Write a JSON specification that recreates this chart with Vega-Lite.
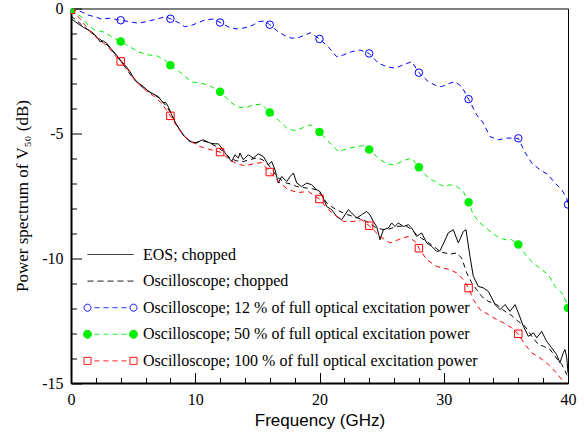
{
 "$schema": "https://vega.github.io/schema/vega-lite/v6.json",
 "width": 497, "height": 374.5,
 "autosize": {"type": "none"},
 "padding": {"left": 71, "top": 8.5, "right": 16, "bottom": 51},
 "background": "white",
 "config": {
  "view": {"stroke": "black", "strokeWidth": 1},
  "axis": {"grid": false, "domainColor": "black", "tickColor": "black", "labelColor": "black", "titleColor": "black", "labelFont": "Liberation Serif", "labelFontSize": 16, "labelFlush": false}
 },
 "resolve": {"axis": {"x": "independent", "y": "independent"}},
 "datasets": {
  "eos": [
   {"f":0,"p":-0.4},{"f":0.4,"p":-0.55},{"f":0.72,"p":-0.66},{"f":1.0,"p":-0.75},{"f":1.39,"p":-0.86},{"f":1.7,"p":-0.95},{"f":2.07,"p":-1.13},{"f":2.33,"p":-1.33},{"f":2.6,"p":-1.3},{"f":2.87,"p":-1.39},{"f":3.2,"p":-1.6},{"f":3.54,"p":-1.79},{"f":4.08,"p":-2.13},{"f":4.4,"p":-2.3},{"f":4.75,"p":-2.53},{"f":5.0,"p":-2.75},{"f":5.29,"p":-2.93},{"f":5.82,"p":-3.13},{"f":6.2,"p":-3.3},{"f":6.49,"p":-3.39},{"f":7.03,"p":-3.53},{"f":7.43,"p":-3.79},{"f":7.6,"p":-3.75},{"f":7.83,"p":-3.93},{"f":8.1,"p":-4.26},{"f":8.5,"p":-4.66},{"f":9.04,"p":-5.06},{"f":9.3,"p":-5.2},{"f":9.58,"p":-5.33},{"f":10.12,"p":-5.39},{"f":10.4,"p":-5.3},{"f":10.65,"p":-5.26},{"f":11.19,"p":-5.39},{"f":11.6,"p":-5.42},{"f":11.86,"p":-5.42},{"f":12.13,"p":-5.59},{"f":12.52,"p":-5.86},{"f":12.93,"p":-6.13},{"f":13.2,"p":-5.86},{"f":13.47,"p":-5.99},{"f":13.6,"p":-5.79},{"f":13.87,"p":-6.06},{"f":14.27,"p":-5.86},{"f":14.67,"p":-5.99},{"f":15.07,"p":-5.82},{"f":15.48,"p":-5.93},{"f":15.88,"p":-6.26},{"f":16.15,"p":-6.13},{"f":16.42,"p":-6.46},{"f":16.68,"p":-6.99},{"f":16.96,"p":-6.73},{"f":17.36,"p":-6.93},{"f":17.63,"p":-6.73},{"f":17.9,"p":-6.59},{"f":18.17,"p":-6.99},{"f":18.57,"p":-7.13},{"f":18.97,"p":-6.99},{"f":19.37,"p":-7.06},{"f":19.77,"p":-7.26},{"f":20.04,"p":-7.33},{"f":20.3,"p":-7.59},{"f":20.58,"p":-7.93},{"f":20.98,"p":-8.06},{"f":21.38,"p":-8.33},{"f":21.79,"p":-8.46},{"f":22.05,"p":-8.26},{"f":22.32,"p":-8.06},{"f":22.59,"p":-8.19},{"f":22.99,"p":-8.39},{"f":23.39,"p":-8.26},{"f":23.79,"p":-8.13},{"f":24.06,"p":-8.26},{"f":24.33,"p":-8.53},{"f":24.6,"p":-8.73},{"f":24.87,"p":-9.26},{"f":25.14,"p":-8.86},{"f":25.54,"p":-8.79},{"f":25.81,"p":-8.59},{"f":26.08,"p":-8.73},{"f":26.34,"p":-8.59},{"f":26.75,"p":-8.73},{"f":27.15,"p":-8.66},{"f":27.42,"p":-8.79},{"f":27.82,"p":-9.13},{"f":28.22,"p":-8.99},{"f":28.63,"p":-9.39},{"f":29.03,"p":-9.53},{"f":29.43,"p":-9.73},{"f":29.7,"p":-9.7},{"f":30.0,"p":-9.39},{"f":30.36,"p":-8.99},{"f":30.77,"p":-8.86},{"f":31.17,"p":-9.39},{"f":31.58,"p":-8.93},{"f":31.79,"p":-8.86},{"f":32.11,"p":-9.93},{"f":32.38,"p":-10.73},{"f":32.78,"p":-11.13},{"f":33.19,"p":-11.19},{"f":33.59,"p":-11.33},{"f":34.13,"p":-11.86},{"f":34.53,"p":-12.06},{"f":34.93,"p":-11.86},{"f":35.33,"p":-12.13},{"f":35.74,"p":-11.86},{"f":36.0,"p":-12.19},{"f":36.41,"p":-12.73},{"f":36.81,"p":-13.13},{"f":37.22,"p":-12.99},{"f":37.48,"p":-13.19},{"f":37.88,"p":-12.93},{"f":38.28,"p":-13.33},{"f":38.68,"p":-13.59},{"f":39.08,"p":-13.86},{"f":39.35,"p":-14.19},{"f":39.62,"p":-13.79},{"f":39.76,"p":-13.66},{"f":39.9,"p":-13.99},{"f":40,"p":-14.6}
  ],
  "osc": [
   {"f":0,"p":-0.3},{"f":0.5,"p":-0.5},{"f":1.0,"p":-0.72},{"f":1.5,"p":-0.9},{"f":2.0,"p":-1.1},{"f":2.5,"p":-1.3},{"f":3.0,"p":-1.5},{"f":3.5,"p":-1.8},{"f":4.0,"p":-2.1},{"f":4.5,"p":-2.45},{"f":5.0,"p":-2.8},{"f":5.5,"p":-3.05},{"f":6.0,"p":-3.25},{"f":6.5,"p":-3.4},{"f":7.0,"p":-3.55},{"f":7.5,"p":-3.8},{"f":8.0,"p":-4.15},{"f":8.5,"p":-4.65},{"f":9.0,"p":-5.05},{"f":9.5,"p":-5.3},{"f":10.0,"p":-5.38},{"f":10.5,"p":-5.3},{"f":11.0,"p":-5.35},{"f":11.6,"p":-5.5},{"f":12.2,"p":-5.7},{"f":12.8,"p":-5.99},{"f":13.3,"p":-6.1},{"f":13.87,"p":-6.13},{"f":14.4,"p":-6.05},{"f":14.95,"p":-5.99},{"f":15.4,"p":-6.05},{"f":15.75,"p":-6.19},{"f":16.2,"p":-6.45},{"f":16.55,"p":-6.73},{"f":17.0,"p":-6.9},{"f":17.36,"p":-6.99},{"f":17.8,"p":-7.05},{"f":18.17,"p":-7.13},{"f":18.6,"p":-7.17},{"f":18.97,"p":-7.19},{"f":19.4,"p":-7.22},{"f":19.77,"p":-7.26},{"f":20.2,"p":-7.5},{"f":20.58,"p":-7.79},{"f":21.1,"p":-7.98},{"f":21.65,"p":-8.13},{"f":22.2,"p":-8.25},{"f":22.72,"p":-8.33},{"f":23.3,"p":-8.43},{"f":23.79,"p":-8.53},{"f":24.2,"p":-8.67},{"f":24.6,"p":-8.79},{"f":25.0,"p":-8.84},{"f":25.41,"p":-8.86},{"f":25.8,"p":-8.8},{"f":26.21,"p":-8.73},{"f":26.6,"p":-8.72},{"f":27.02,"p":-8.73},{"f":27.42,"p":-8.85},{"f":27.82,"p":-9.06},{"f":28.2,"p":-9.2},{"f":28.63,"p":-9.33},{"f":29.03,"p":-9.47},{"f":29.43,"p":-9.62},{"f":29.8,"p":-9.77},{"f":30.1,"p":-9.79},{"f":30.5,"p":-9.84},{"f":31.04,"p":-9.79},{"f":31.45,"p":-10.0},{"f":31.85,"p":-10.59},{"f":32.25,"p":-10.99},{"f":32.65,"p":-11.26},{"f":33.05,"p":-11.53},{"f":33.59,"p":-11.73},{"f":34.26,"p":-11.86},{"f":34.93,"p":-12.13},{"f":35.47,"p":-12.3},{"f":36.0,"p":-12.53},{"f":36.54,"p":-12.73},{"f":37.08,"p":-13.13},{"f":37.62,"p":-13.46},{"f":38.03,"p":-13.53},{"f":38.57,"p":-13.66},{"f":38.95,"p":-13.93},{"f":39.5,"p":-14.26},{"f":39.9,"p":-14.66},{"f":40,"p":-14.8}
  ],
  "o12": [
   {"f":0,"p":-0.03},{"f":0.83,"p":-0.13},{"f":1.37,"p":-0.26},{"f":1.9,"p":-0.33},{"f":2.44,"p":-0.42},{"f":3.11,"p":-0.39},{"f":4,"p":-0.47},{"f":4.72,"p":-0.53},{"f":5.39,"p":-0.59},{"f":6.06,"p":-0.53},{"f":6.6,"p":-0.46},{"f":7.14,"p":-0.39},{"f":7.54,"p":-0.33},{"f":8,"p":-0.41},{"f":8.75,"p":-0.59},{"f":9.15,"p":-0.73},{"f":9.68,"p":-0.68},{"f":10.08,"p":-0.6},{"f":10.78,"p":-0.46},{"f":11.45,"p":-0.42},{"f":12,"p":-0.56},{"f":12.8,"p":-0.77},{"f":13.34,"p":-0.82},{"f":14.0,"p":-0.77},{"f":14.67,"p":-0.66},{"f":15.07,"p":-0.53},{"f":15.6,"p":-0.5},{"f":16,"p":-0.65},{"f":16.68,"p":-0.93},{"f":17.22,"p":-1.09},{"f":17.76,"p":-1.19},{"f":18.3,"p":-1.17},{"f":18.83,"p":-1.06},{"f":19.3,"p":-0.97},{"f":20,"p":-1.22},{"f":20.7,"p":-1.53},{"f":21.38,"p":-1.93},{"f":21.92,"p":-1.86},{"f":22.59,"p":-1.73},{"f":23.26,"p":-1.66},{"f":24,"p":-1.8},{"f":24.73,"p":-2.19},{"f":25.41,"p":-2.33},{"f":26.08,"p":-2.39},{"f":26.75,"p":-2.26},{"f":27.42,"p":-2.13},{"f":28,"p":-2.57},{"f":28.76,"p":-2.93},{"f":29.43,"p":-3.1},{"f":29.83,"p":-3.13},{"f":30.5,"p":-2.99},{"f":30.9,"p":-2.93},{"f":31.45,"p":-3.13},{"f":32,"p":-3.63},{"f":32.65,"p":-4.26},{"f":33.19,"p":-4.59},{"f":33.72,"p":-5.13},{"f":34.4,"p":-5.26},{"f":35.07,"p":-5.19},{"f":36,"p":-5.2},{"f":36.5,"p":-5.73},{"f":37.08,"p":-6.19},{"f":37.75,"p":-6.46},{"f":38.4,"p":-6.66},{"f":38.95,"p":-6.99},{"f":39.5,"p":-7.26},{"f":39.9,"p":-7.6},{"f":40,"p":-7.85}
  ],
  "o50": [
   {"f":0,"p":-0.05},{"f":0.83,"p":-0.33},{"f":1.37,"p":-0.66},{"f":1.9,"p":-0.86},{"f":2.58,"p":-0.93},{"f":3.25,"p":-1.13},{"f":4,"p":-1.32},{"f":4.72,"p":-1.53},{"f":5.39,"p":-1.73},{"f":6.2,"p":-1.86},{"f":6.87,"p":-1.89},{"f":7.54,"p":-2.06},{"f":8,"p":-2.27},{"f":8.88,"p":-2.59},{"f":9.7,"p":-2.94},{"f":10.38,"p":-2.99},{"f":11.05,"p":-3.06},{"f":12,"p":-3.33},{"f":12.8,"p":-3.73},{"f":13.34,"p":-3.93},{"f":14.0,"p":-3.99},{"f":14.67,"p":-3.86},{"f":15.35,"p":-3.83},{"f":16,"p":-4.17},{"f":16.68,"p":-4.46},{"f":17.36,"p":-4.79},{"f":18.03,"p":-4.9},{"f":18.7,"p":-4.77},{"f":19.3,"p":-4.66},{"f":20,"p":-4.95},{"f":20.85,"p":-5.39},{"f":21.52,"p":-5.73},{"f":22.19,"p":-5.62},{"f":22.99,"p":-5.53},{"f":23.53,"p":-5.49},{"f":24,"p":-5.65},{"f":24.73,"p":-5.99},{"f":25.41,"p":-6.23},{"f":26.08,"p":-6.26},{"f":26.75,"p":-6.1},{"f":27.42,"p":-5.99},{"f":28,"p":-6.36},{"f":28.76,"p":-6.79},{"f":29.3,"p":-6.93},{"f":29.96,"p":-7.13},{"f":30.5,"p":-7.06},{"f":31.04,"p":-7.13},{"f":31.58,"p":-7.33},{"f":32,"p":-7.76},{"f":32.38,"p":-8.26},{"f":32.92,"p":-8.59},{"f":33.59,"p":-8.86},{"f":34.26,"p":-9.13},{"f":34.93,"p":-9.26},{"f":35.47,"p":-9.26},{"f":36,"p":-9.45},{"f":36.67,"p":-9.93},{"f":37.2,"p":-10.19},{"f":37.88,"p":-10.46},{"f":38.41,"p":-10.66},{"f":38.95,"p":-11.13},{"f":39.5,"p":-11.39},{"f":39.9,"p":-11.79},{"f":40,"p":-12.0}
  ],
  "o100": [
   {"f":0,"p":-0.05},{"f":0.7,"p":-0.39},{"f":1.23,"p":-0.73},{"f":1.77,"p":-1.06},{"f":2.31,"p":-1.26},{"f":2.98,"p":-1.53},{"f":3.51,"p":-1.86},{"f":4,"p":-2.12},{"f":4.59,"p":-2.46},{"f":5.12,"p":-2.86},{"f":5.66,"p":-3.13},{"f":6.2,"p":-3.35},{"f":6.74,"p":-3.53},{"f":7.27,"p":-3.79},{"f":7.67,"p":-4.06},{"f":8,"p":-4.3},{"f":8.61,"p":-4.79},{"f":9.15,"p":-5.13},{"f":9.68,"p":-5.33},{"f":10.38,"p":-5.53},{"f":11.05,"p":-5.63},{"f":12,"p":-5.75},{"f":12.8,"p":-6.06},{"f":13.34,"p":-6.22},{"f":14.0,"p":-6.3},{"f":14.67,"p":-6.22},{"f":15.35,"p":-6.17},{"f":16,"p":-6.55},{"f":16.82,"p":-6.99},{"f":17.49,"p":-7.26},{"f":18.3,"p":-7.37},{"f":19.1,"p":-7.33},{"f":20,"p":-7.63},{"f":20.71,"p":-8.06},{"f":21.38,"p":-8.33},{"f":21.92,"p":-8.53},{"f":22.72,"p":-8.53},{"f":23.39,"p":-8.46},{"f":24,"p":-8.7},{"f":24.87,"p":-9.13},{"f":25.68,"p":-9.39},{"f":26.34,"p":-9.26},{"f":27.15,"p":-9.13},{"f":27.82,"p":-9.39},{"f":28,"p":-9.6},{"f":28.63,"p":-10.06},{"f":29.43,"p":-10.33},{"f":30.5,"p":-10.46},{"f":31.04,"p":-10.59},{"f":31.58,"p":-10.86},{"f":32,"p":-11.2},{"f":32.38,"p":-11.66},{"f":32.92,"p":-12.06},{"f":33.59,"p":-12.26},{"f":34.26,"p":-12.46},{"f":34.8,"p":-12.59},{"f":35.47,"p":-12.79},{"f":36,"p":-13.03},{"f":36.54,"p":-13.46},{"f":37.08,"p":-13.79},{"f":37.75,"p":-13.99},{"f":38.41,"p":-14.26},{"f":38.95,"p":-14.53},{"f":39.5,"p":-14.86},{"f":39.75,"p":-15.0}
  ]
 },
 "layer": [
  {
   "data": {"name": "eos"},
   "mark": {"type": "line", "clip": true, "strokeWidth": 1},
   "encoding": {
    "x": {"field": "f", "type": "quantitative", "scale": {"domain": [0, 40], "nice": false, "zero": false},
     "axis": {"orient": "bottom", "values": [0, 10, 20, 30, 40], "tickSize": -10.5, "labelPadding": 19, "domainWidth": 2, "labelExpr": "'' + datum.value", "title": "Frequency (GHz)", "titleFont": "Liberation Sans", "titleFontSize": 17, "titleFontWeight": "normal", "titleBaseline": "middle", "titleY": 37}},
    "y": {"field": "p", "type": "quantitative", "scale": {"domain": [-15, 0], "nice": false, "zero": false},
     "axis": {"orient": "left", "values": [-15, -10, -5, 0], "tickSize": -10.5, "labelPadding": 18.5, "domainWidth": 2, "labelExpr": "'' + datum.value", "title": "Power spectrum of V₅₀ (dB)", "titleFont": "Liberation Serif", "titleFontSize": 17, "titleFontWeight": "normal", "titleAngle": -90, "titleBaseline": "middle", "titleX": -49, "titleY": 187}},
    "color": {"datum": "EOS; chopped", "type": "nominal",
     "scale": {"domain": ["EOS; chopped", "Oscilloscope; chopped", "Oscilloscope; 12 % of full optical excitation power", "Oscilloscope; 50 % of full optical excitation power", "Oscilloscope; 100 % of full optical excitation power"], "range": ["#000000", "#000000", "#0000ff", "#00ee00", "#ff0000"]},
     "legend": {"orient": "none", "legendX": 31.5, "legendY": 238, "title": null, "padding": 0, "symbolSize": 100, "symbolStrokeWidth": 1, "labelFont": "Liberation Serif", "labelFontSize": 16, "labelColor": "black", "labelOffset": 24.5, "rowPadding": 10.6, "labelLimit": 0,
      "encode": {"symbols": {"update": {
       "shape": {"signal": "['M-4.6,0H4.6','M-4.6,0H-3.4M-2.6,0H-1.4M-0.6,0H0.6M1.4,0H2.6M3.4,0H4.6','M-5.3,0A0.7,0.7 0 1,0 -3.9,0A0.7,0.7 0 1,0 -5.3,0ZM3.9,0A0.7,0.7 0 1,0 5.3,0A0.7,0.7 0 1,0 3.9,0ZM-3.2,0H-2.2M-1.4,0H-0.4M0.4,0H1.4M2.2,0H3.2','M-5.4,0A0.8,0.8 0 1,0 -3.8,0A0.8,0.8 0 1,0 -5.4,0ZM3.8,0A0.8,0.8 0 1,0 5.4,0A0.8,0.8 0 1,0 3.8,0ZM-3.2,0H-2.2M-1.4,0H-0.4M0.4,0H1.4M2.2,0H3.2','M-5.31,-0.71H-3.89V0.71H-5.31ZM3.89,-0.71H5.31V0.71H3.89ZM-3.2,0H-2.2M-1.4,0H-0.4M0.4,0H1.4M2.2,0H3.2'][datum.index]"},
       "fill": {"signal": "['transparent','transparent','transparent','#00ee00','transparent'][datum.index]"},
       "stroke": {"scale": "color", "field": "value"},
       "strokeDash": {"value": [1, 0]},
       "strokeWidth": {"value": 1},
       "opacity": {"value": 1},
       "size": {"value": 100}
      }}}
     }
    }
   }
  },
  {
   "data": {"name": "osc"},
   "mark": {"type": "line", "clip": true, "strokeWidth": 1, "strokeDash": [5, 4]},
   "encoding": {
    "x": {"field": "f", "type": "quantitative", "axis": null},
    "y": {"field": "p", "type": "quantitative", "axis": null},
    "color": {"datum": "Oscilloscope; chopped", "type": "nominal"}
   }
  },
  {
   "data": {"name": "o12"},
   "mark": {"type": "line", "clip": true, "strokeWidth": 1, "strokeDash": [5, 4]},
   "encoding": {
    "x": {"field": "f", "type": "quantitative", "axis": null},
    "y": {"field": "p", "type": "quantitative", "axis": null},
    "color": {"datum": "Oscilloscope; 12 % of full optical excitation power", "type": "nominal"}
   }
  },
  {
   "data": {"name": "o50"},
   "mark": {"type": "line", "clip": true, "strokeWidth": 1, "strokeDash": [5, 4]},
   "encoding": {
    "x": {"field": "f", "type": "quantitative", "axis": null},
    "y": {"field": "p", "type": "quantitative", "axis": null},
    "color": {"datum": "Oscilloscope; 50 % of full optical excitation power", "type": "nominal"}
   }
  },
  {
   "data": {"name": "o100"},
   "mark": {"type": "line", "clip": true, "strokeWidth": 1, "strokeDash": [5, 4]},
   "encoding": {
    "x": {"field": "f", "type": "quantitative", "axis": null},
    "y": {"field": "p", "type": "quantitative", "axis": null},
    "color": {"datum": "Oscilloscope; 100 % of full optical excitation power", "type": "nominal"}
   }
  },
  {
   "data": {"name": "o12"},
   "transform": [{"filter": "datum.f % 4 === 0"}],
   "mark": {"type": "point", "shape": "circle", "filled": false, "stroke": "#0000ff", "strokeWidth": 1, "size": 56, "opacity": 1, "clip": true},
   "encoding": {
    "x": {"field": "f", "type": "quantitative", "axis": {"orient": "bottom", "values": [2, 4, 6, 8, 12, 14, 16, 18, 22, 24, 26, 28, 32, 34, 36, 38], "tickSize": -5.5, "labels": false, "domain": false, "title": null}},
    "y": {"field": "p", "type": "quantitative", "axis": {"orient": "left", "values": [-14, -13, -12, -11, -9, -8, -7, -6, -4, -3, -2, -1], "tickSize": -5.5, "labels": false, "domain": false, "title": null}}
   }
  },
  {
   "data": {"name": "o50"},
   "transform": [{"filter": "datum.f % 4 === 0"}],
   "mark": {"type": "point", "shape": "circle", "filled": true, "fill": "#00ee00", "size": 72, "opacity": 1, "clip": true},
   "encoding": {
    "x": {"field": "f", "type": "quantitative", "axis": null},
    "y": {"field": "p", "type": "quantitative", "axis": null}
   }
  },
  {
   "data": {"name": "o100"},
   "transform": [{"filter": "datum.f % 4 === 0"}],
   "mark": {"type": "point", "shape": "square", "filled": false, "stroke": "#ff0000", "strokeWidth": 1, "size": 56, "opacity": 1, "clip": true},
   "encoding": {
    "x": {"field": "f", "type": "quantitative", "axis": null},
    "y": {"field": "p", "type": "quantitative", "axis": null}
   }
  }
 ]
}
